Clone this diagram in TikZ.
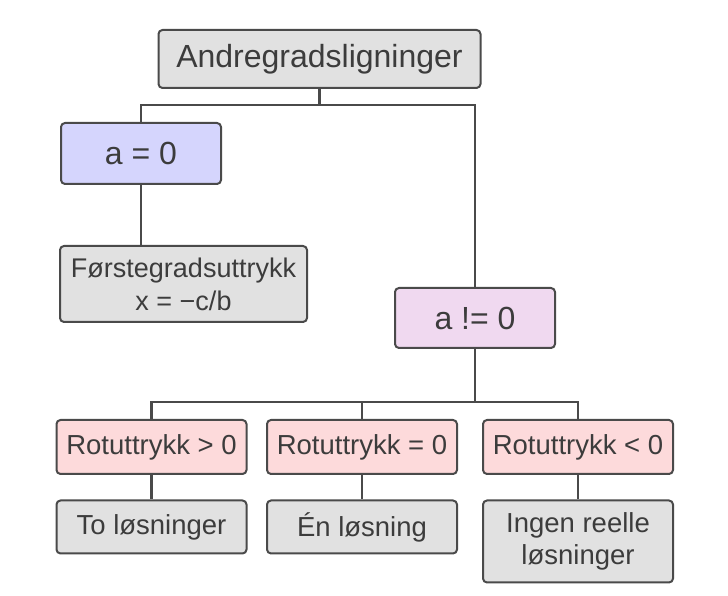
\documentclass[tikz,border=0pt]{standalone}
\usepackage{fontspec}
\setmainfont{Liberation Sans}
\usepackage{tikz}

\definecolor{kant}{HTML}{4A4A4A}
\definecolor{tekst}{HTML}{3C3C3C}
\definecolor{grafill}{HTML}{E1E1E1}
\definecolor{lillafill}{HTML}{D5D5FD}
\definecolor{rosafill}{HTML}{F0D9F0}
\definecolor{rodfill}{HTML}{FDDADB}

\tikzset{
  boks/.style={draw=kant, line width=2pt, rounded corners=4pt, text=tekst, inner sep=0pt, align=center},
  hoved/.style={boks, fill=grafill, minimum width=322pt, minimum height=58pt, font=\fontsize{32}{38}\selectfont},
  vilkar/.style={boks, minimum width=160pt, minimum height=61pt, font=\fontsize{32}{38}\selectfont},
  rot/.style={boks, fill=rodfill, minimum width=190pt, minimum height=54pt, font=\fontsize{27.5}{32}\selectfont},
  svar/.style={boks, fill=grafill, minimum width=190pt, minimum height=53pt, font=\fontsize{27.5}{32}\selectfont},
  kobling/.style={draw=kant, line width=2.5pt}
}

\begin{document}
\begin{tikzpicture}[x=1pt, y=1pt, node distance=80pt]
\useasboundingbox (0,0) rectangle (728,596);
\node[hoved] (top) at (319.5,537) {Andregradsligninger};
\node[vilkar, fill=lillafill, below of=top, xshift=-178.5pt, yshift=-14.5pt] (a0) {a = 0};
\node[boks, fill=grafill, minimum width=247pt, minimum height=76pt, font=\fontsize{27}{33}\selectfont,
      below of=a0, xshift=42.5pt, yshift=-50.5pt] (forste) {Førstegradsuttrykk\\x = −c/b};
\node[vilkar, fill=rosafill, minimum height=60pt, below of=top, xshift=155.5pt, yshift=-179pt] (an0) {a != 0};
% diskriminanten
\node[rot, below of=an0, xshift=-113pt, yshift=-49pt] (r2) {Rotuttrykk = 0};
\node[rot, left of=r2, xshift=-130.5pt] (r1) {Rotuttrykk > 0};
\node[rot, right of=r2, xshift=136pt] (r3) {Rotuttrykk < 0};
\node[svar, below of=r1] (l1) {To løsninger};
\node[svar, below of=r2] (l2) {Én løsning};
\node[svar, minimum height=82pt, below of=r3, yshift=-14.5pt] (l3) {Ingen reelle\\løsninger};
% koblinger
\draw[kobling] (top.south) -- ++(0,-16) -| (a0.north);
\draw[kobling] (top.south) -- ++(0,-16) -| (an0.north);
\draw[kobling] (a0.south) -- (a0.south |- forste.north);
\draw[kobling] (an0.south) -- ++(0,-53) -| (r1.north);
\draw[kobling] (an0.south) -- ++(0,-53) -| (r2.north);
\draw[kobling] (an0.south) -- ++(0,-53) -| (r3.north);
\draw[kobling] (r1.south) -- (l1.north);
\draw[kobling] (r2.south) -- (l2.north);
\draw[kobling] (r3.south) -- (l3.north);
\end{tikzpicture}
\end{document}
